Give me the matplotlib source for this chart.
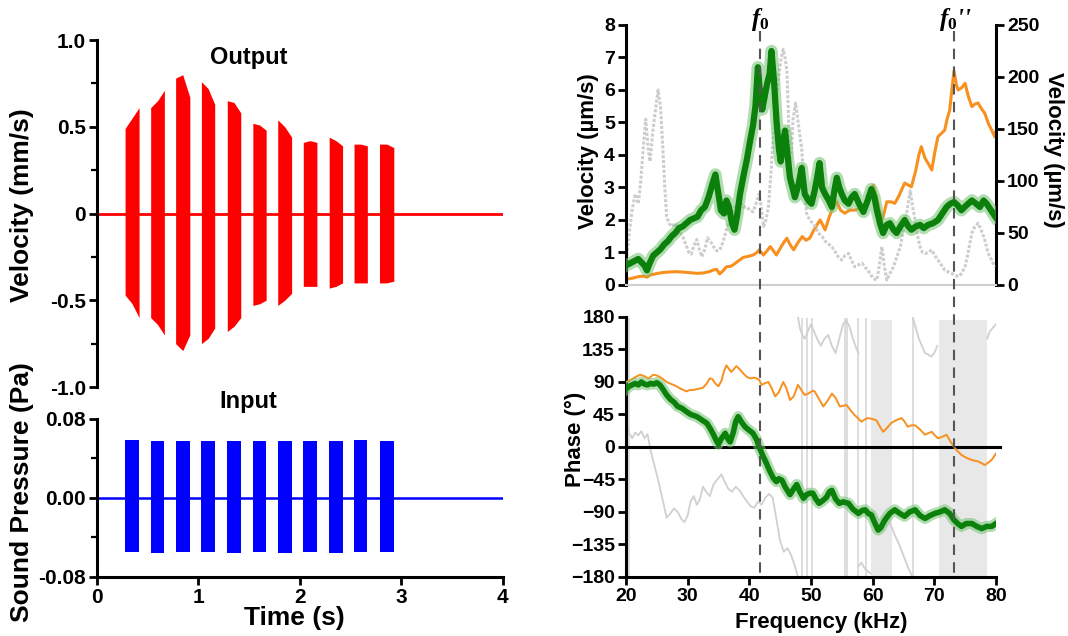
import matplotlib
matplotlib.use("Agg")
import matplotlib.pyplot as plt
import matplotlib.transforms as mtransforms
from matplotlib.lines import Line2D
from matplotlib.ticker import MultipleLocator

plt.rcParams['font.family'] = ['Liberation Sans', 'DejaVu Sans']
plt.rcParams['font.weight'] = 'bold'
plt.rcParams['mathtext.fontset'] = 'custom'
plt.rcParams['mathtext.rm'] = 'Liberation Serif:bold'
plt.rcParams['mathtext.it'] = 'Liberation Serif:italic:bold'

# ---- time-domain bursts (s) ----
burst_start = [0.277, 0.529, 0.775, 1.029, 1.284, 1.536, 1.781, 2.033, 2.288, 2.533, 2.784]
burst_mid = [0.346, 0.597, 0.845, 1.095, 1.350, 1.602, 1.850, 2.100, 2.354, 2.598, 2.855]
burst_end = [0.415, 0.664, 0.915, 1.160, 1.417, 1.667, 1.918, 2.167, 2.420, 2.664, 2.925]
baseline_t = [0.0, 4.0]

# output velocity envelope (mm/s): start, middle, end of each burst
out_top = [[0.49, 0.55, 0.61], [0.61, 0.65, 0.71], [0.78, 0.80, 0.67], [0.76, 0.72, 0.63],
           [0.65, 0.64, 0.58], [0.52, 0.51, 0.48], [0.54, 0.50, 0.44], [0.41, 0.42, 0.41],
           [0.44, 0.42, 0.39], [0.40, 0.40, 0.39], [0.40, 0.40, 0.38]]
out_bot = [[-0.47, -0.52, -0.60], [-0.60, -0.64, -0.70], [-0.75, -0.79, -0.70], [-0.75, -0.72, -0.66],
           [-0.68, -0.65, -0.60], [-0.53, -0.52, -0.50], [-0.53, -0.50, -0.46], [-0.42, -0.42, -0.42],
           [-0.43, -0.42, -0.40], [-0.40, -0.40, -0.40], [-0.40, -0.40, -0.39]]

# input sound pressure envelope (Pa)
in_top = [0.059, 0.058, 0.058, 0.058, 0.058, 0.058, 0.058, 0.058, 0.058, 0.059, 0.058]
in_bot = [-0.055, -0.056, -0.055, -0.055, -0.056, -0.055, -0.056, -0.055, -0.056, -0.055, -0.055]

# ---- frequency response ----
f0 = 41.7
f0pp = 73.2

green_vel_f = [20, 20.5, 21, 21.5, 22, 22.5, 23, 23.4, 23.8, 24.4, 25, 25.6, 26.2, 26.8, 27.4, 28, 28.6,
               29.2, 29.8, 30.4, 31, 31.6, 32.2, 32.8, 33.4, 34.0, 34.5, 35.0, 35.4, 35.9, 36.3, 36.7,
               37.2, 37.6, 38.0, 38.5, 39.0, 39.6, 40.1, 40.6, 41.0, 41.4, 41.7, 42.1, 42.5, 42.9, 43.3,
               43.6, 44.0, 44.4, 44.8, 45.1, 45.5, 45.8, 46.2, 46.6, 47.0, 47.4, 48.0, 48.5, 49.0, 49.6,
               50.1, 50.6, 51.0, 51.4, 51.8, 52.3, 52.9, 53.4, 53.8, 54.2, 54.6, 55.0, 55.5, 56.1, 56.6,
               57.1, 57.8, 58.5, 59.2, 59.8, 60.3, 60.7, 61.2, 61.7, 62.3, 62.8, 63.4, 63.9, 64.5, 65.2,
               65.8, 66.3, 67.0, 67.7, 68.3, 69.0, 69.8, 70.6, 71.3, 72.0, 72.6, 73.2, 73.8, 74.4, 75.2,
               76.1, 76.8, 77.4, 78.0, 78.5, 79.2, 79.9]
green_vel = [0.6, 0.65, 0.7, 0.75, 0.8, 0.7, 0.6, 0.45, 0.65, 0.9, 1.0, 1.1, 1.25, 1.35, 1.5, 1.6, 1.75,
             1.8, 1.9, 2.0, 2.05, 2.1, 2.3, 2.4, 2.7, 3.1, 3.4, 2.8, 2.3, 2.2, 2.6, 2.4,
             1.9, 1.7, 2.1, 2.8, 3.3, 3.85, 4.4, 4.9, 5.5, 6.7, 6.0, 5.4, 5.8, 6.2, 6.5,
             7.2, 6.3, 5.1, 4.2, 3.8, 4.4, 4.75, 4.0, 3.3, 3.0, 2.7, 3.1, 3.6, 2.8, 2.6,
             2.5, 2.9, 3.3, 3.75, 3.0, 2.8, 2.6, 2.4, 2.9, 3.3, 3.0, 2.8, 2.6, 2.5, 2.7,
             2.8, 2.5, 2.25, 2.6, 2.95, 2.7, 2.3, 1.9, 1.6, 1.85, 1.9, 1.7, 1.6, 1.8, 2.0,
             1.8, 1.7, 1.8, 1.85, 1.75, 1.85, 1.9, 2.0, 2.2, 2.4, 2.5, 2.55, 2.45, 2.3, 2.45,
             2.6, 2.5, 2.4, 2.6, 2.5, 2.3, 2.1]

gray_vel_f = [20, 20.3, 20.6, 21.0, 21.5, 22.0, 22.4, 22.8, 23.2, 23.6, 23.9, 24.4, 24.8, 25.2, 25.6,
              25.9, 26.3, 26.6, 27.0, 27.4, 28.0, 28.5, 29.2, 29.8, 30.2, 30.6, 31.0, 31.5, 31.9, 32.3,
              32.8, 33.2, 33.7, 34.2, 34.7, 35.2, 35.7, 36.3, 36.9, 37.4, 38.0, 38.5, 39.0, 39.6, 40.1,
              40.6, 41.1, 41.6, 42.0, 42.3, 42.7, 43.1, 43.5, 43.9, 44.3, 44.7, 45.1, 45.5, 45.8, 46.1,
              46.4, 46.6, 46.9, 47.1, 47.5, 47.8, 48.2, 48.5, 48.9, 49.3, 49.8, 50.3, 50.7, 51.2, 51.8,
              52.3, 52.9, 53.4, 54.0, 54.5, 55.0, 55.5, 56.1, 56.6, 57.1, 57.7, 58.3, 59.0, 59.6, 60.1,
              60.7, 61.1, 61.5, 61.9, 62.3, 62.8, 63.4, 63.9, 64.5, 65.0, 65.6, 66.1, 66.5, 66.9, 67.3,
              67.7, 68.1, 68.5, 69.0, 69.6, 70.1, 70.6, 71.2, 71.7, 72.3, 72.8, 73.4, 73.9, 74.4, 75.0,
              75.5, 76.1, 76.6, 77.1, 77.6, 78.2, 78.7, 79.3, 79.8]
gray_vel = [0.6, 1.2, 1.7, 2.3, 2.8, 2.5, 3.2, 4.2, 5.1, 4.2, 3.8, 4.8, 5.4, 6.0, 5.5,
            4.5, 3.0, 2.1, 1.9, 1.8, 1.9, 1.7, 1.5, 1.2, 1.0, 0.95, 1.2, 1.4, 1.1, 0.87,
            1.1, 1.45, 1.35, 1.18, 1.05, 1.08, 1.3, 1.7, 2.1, 2.3, 2.5, 2.56, 2.4, 2.4, 2.3,
            2.25, 2.5, 2.8, 2.3, 1.8, 2.0, 2.4, 3.4, 4.6, 5.5, 6.3, 6.9, 7.25, 7.0, 6.6,
            5.0, 3.5, 4.3, 5.1, 5.6, 5.2, 4.6, 4.2, 3.0, 2.2, 2.0, 1.9, 1.8, 1.6, 1.5,
            1.35, 1.25, 1.18, 1.0, 0.85, 0.77, 0.9, 0.97, 0.75, 0.56, 0.62, 0.67, 0.5, 0.36, 0.2,
            0.15, 0.6, 1.18, 0.6, 0.15, 0.35, 0.56, 0.85, 1.18, 1.7, 2.3, 2.9, 2.4, 2.0, 1.5,
            1.18, 1.0, 0.97, 1.0, 1.08, 0.9, 0.77, 0.6, 0.46, 0.4, 0.36, 0.3, 0.26, 0.35, 0.56,
            1.0, 1.6, 1.8, 1.9, 1.7, 1.38, 1.0, 0.77, 0.56]

orange_vel_f = [20, 21, 22, 22.8, 23.4, 24, 25, 26, 27, 28, 29, 30, 31, 31.5, 32.5, 33.5, 34.2, 34.7,
                35.2, 35.8, 36.3, 37.0, 37.4, 38.2, 39, 39.8, 40.6, 41.2, 41.6, 42.0, 42.3, 42.9, 43.4,
                43.9, 44.4, 45.0, 45.6, 46.1, 46.6, 47.2, 47.8, 48.6, 49.2, 49.8, 50.4, 51.0, 51.5,
                52.3, 53.0, 53.6, 54.2, 54.8, 55.5, 56.3, 57.1, 58.0, 58.8, 59.5, 60.1, 60.6, 61.1,
                61.5, 61.9, 62.3, 63.0, 63.6, 64.3, 65.2, 65.8, 66.3, 67.0, 67.5, 67.9, 68.5, 69.0,
                69.6, 70.1, 70.6, 71.2, 71.7, 72.1, 72.5, 72.9, 73.2, 73.6, 73.9, 74.5, 75.0, 75.5,
                76.1, 76.6, 77.1, 77.6, 78.2, 78.8, 79.3, 79.8, 80.0]
orange_vel = [5.4, 6.5, 8, 8.5, 7.5, 9.7, 11, 12, 12.5, 12.8, 12.5, 12, 11.5, 11.2, 11.5, 12.8, 14.5, 15,
              10.6, 14, 17.5, 18, 19.4, 23, 26.5, 27.5, 28.8, 31, 33.8, 31, 28.8, 33, 36.9,
              33, 28.8, 35, 41, 45, 39, 33.8, 40, 46.6, 43, 45, 52, 58, 62.5,
              53, 66, 75, 80, 72, 69, 72, 72, 74, 75, 88, 96, 85, 72,
              62.5, 70, 80, 80, 78.5, 86, 98, 96, 94.5, 110, 125, 133, 122, 117,
              110.6, 128, 142.6, 146, 149, 160, 168, 190, 206, 192, 187.5, 190, 194, 182,
              171.5, 174, 175, 170, 165, 155, 149, 142.6, 148]

green_ph_f = [20, 20.5, 21, 21.5, 22, 22.5, 23, 23.5, 24, 24.5, 25, 25.5, 26, 26.6, 27.2, 27.8, 28.4,
              29, 29.8, 30.5, 31.5, 32.2, 33.1, 33.7, 34.2, 34.7, 35.0, 35.5, 36.1, 36.6, 36.9, 37.4,
              37.8, 38.2, 38.7, 39.3, 40.0, 40.6, 41.2, 41.6, 42.2, 42.8, 43.3, 43.9, 44.4, 44.8,
              45.3, 45.8, 46.3, 46.6, 47.2, 47.7, 48.2, 48.8, 49.3, 49.8, 50.3, 50.8, 51.3, 51.8,
              52.5, 53.0, 53.4, 54.0, 54.6, 55.2, 56.1, 56.8, 57.7, 58.3, 58.8, 59.3, 59.8, 60.4,
              60.9, 61.3, 62.0, 62.8, 63.6, 64.4, 65.2, 66.0, 66.9, 67.7, 68.5, 69.3, 70.1, 70.9,
              71.7, 72.5, 73.2, 73.8, 74.4, 75.2, 76.1, 76.9, 77.7, 78.5, 79.3, 80.0]
green_ph = [80, 84, 86, 88, 86, 90, 87, 86, 88, 87, 89, 86, 80, 72, 66, 62, 56,
            54, 49, 45, 42, 38, 33, 25, 17, 8, 4, 12, 19, 10, 7, 20,
            35, 42, 35, 28, 23, 19, 10, 0, -12, -23, -33, -43, -48, -44,
            -46, -55, -62, -66, -58, -52, -62, -71, -66, -64, -64, -72, -78, -75,
            -70, -62, -60, -72, -78, -76, -78, -86, -92, -88, -87, -92, -94, -106,
            -115, -112, -101, -92, -87, -92, -96, -90, -87, -95, -99, -95, -92, -90,
            -87, -92, -101, -106, -110, -106, -106, -110, -113, -110, -110, -106]

orange_ph_f = [20, 20.6, 21.2, 21.8, 22.3, 23.0, 23.6, 24.0, 24.4, 25.0, 25.5, 26.0, 26.6, 27.1, 27.7,
               28.2, 28.8, 29.3, 29.8, 30.4, 30.9, 31.5, 32.0, 32.5, 33.1, 33.6, 34.0, 34.5, 35.0,
               35.5, 35.9, 36.3, 36.7, 37.1, 37.5, 37.9, 38.4, 39.0, 39.6, 40.2, 40.8, 41.2, 41.6,
               42.0, 42.5, 43.1, 43.6, 44.2, 44.8, 45.5, 46.0, 46.6, 47.2, 47.9, 48.5, 49.0, 49.6,
               50.3, 50.6, 51.2, 52.0, 52.7, 53.4, 54.0, 54.7, 55.2, 55.8, 56.5, 57.1, 57.6, 58.2,
               58.7, 59.2, 59.9, 60.6, 61.2, 61.7, 62.3, 63.0, 63.8, 64.7, 65.2, 65.7, 66.3, 66.9,
               67.6, 68.5, 69.0, 69.6, 70.1, 70.6, 71.3, 72.0, 72.6, 73.2, 73.8, 74.4, 75.2, 76.1,
               76.6, 77.1, 77.6, 78.2, 78.7, 79.3, 79.7, 80.1]
orange_ph = [90, 92, 95, 98, 100, 98, 95, 97, 100, 99, 97, 94, 90, 88, 86,
             84, 81, 79, 77, 79, 79, 80, 81, 82, 88, 95, 94, 88, 84,
             92, 105, 113, 108, 104, 108, 112, 108, 102, 97, 95, 96, 95, 93,
             86, 88, 90, 82, 70, 76, 90, 82, 65, 70, 86, 78, 72, 74,
             78, 77, 68, 56, 64, 74, 68, 56, 57, 58, 50, 44, 40, 35,
             38, 40, 39, 37, 28, 21, 26, 33, 37, 40, 35, 28, 30, 30,
             25, 17, 19, 21, 16, 12, 14, 17, 8, 0, -6, -11, -15, -18,
             -19, -20, -22, -25, -22, -18, -13, -8]

# gray phase trace in pieces (it wraps at +/-180 and scatters in two bands)
gray_ph_pieces = [
    ([20.0, 20.5, 21.0, 21.5, 22.0, 22.5, 23.0, 23.5, 24.0, 24.6, 25.2, 26.0, 26.6, 27.2, 27.8,
      28.4, 29.0, 29.5, 30.0, 30.5, 31.0, 31.5, 32.0, 32.5, 33.0, 33.6, 34.2, 34.8, 35.5, 36.0,
      36.6, 37.2, 37.8, 38.4, 39.0, 39.6, 40.2, 40.8, 41.4, 42.0, 42.6, 43.2, 43.8, 44.4, 45.0,
      45.6, 46.2, 46.8, 47.4, 47.9],
     [38, 20, 12, 20, 16, 22, 12, 18, -5, -25, -45, -75, -98, -92, -85,
      -90, -100, -104, -95, -75, -68, -80, -72, -55, -62, -68, -52, -45, -38, -48,
      -58, -62, -55, -60, -68, -75, -82, -84, -76, -80, -70, -65, -70, -100, -130,
      -145, -140, -150, -165, -180]),
    ([47.9, 48.2, 48.6, 49.0, 49.5, 50.0, 50.5, 51.0, 51.6, 52.2, 52.8, 53.4, 54.0, 54.6, 55.2,
      55.7, 56.2, 56.8, 57.3, 57.7],
     [180, 165, 155, 150, 160, 170, 160, 150, 140, 150, 155, 140, 130, 150, 170,
      175, 168, 150, 138, 130]),
    ([57.7, 58.2, 58.7, 59.2, 59.7], [-165, -160, -168, -172, -175]),
    ([62.8, 63.5, 64.3, 65.0, 65.8, 66.5], [-105, -120, -135, -150, -168, -180]),
    ([66.5, 67.0, 67.5, 68.0, 68.5, 69.0, 69.5, 70.0, 70.5], [180, 165, 150, 140, 130, 128, 125, 130, 140]),
    ([78.6, 79.0, 79.5, 80.0], [150, 160, 165, 170]),
]
gray_ph_wraps = [20.5, 48.6, 49.3, 50.1, 55.5, 55.8, 57.7, 58.9, 66.5]
gray_ph_dense = [(59.8, 63.2), (70.7, 78.5)]

red = '#ff0000'
blue = '#0000ff'
green = '#0b800b'
green_fringe = '#72c272'
orange = '#f7901e'
gray = '#cdcdcd'

fig = plt.figure(figsize=(10.68, 6.36), dpi=100)
ax_out = fig.add_axes([0.0908, 0.3915, 0.3801, 0.5456])
ax_in = fig.add_axes([0.0908, 0.0928, 0.3801, 0.2484])
ax_vel = fig.add_axes([0.5861, 0.5519, 0.3464, 0.4088])
ax_vel2 = ax_vel.twinx()
ax_ph = fig.add_axes([0.5861, 0.0928, 0.3464, 0.4088])

# --- output velocity ---
for i in range(len(burst_start)):
    ts = [burst_start[i], burst_mid[i], burst_end[i]]
    ax_out.fill_between(ts, out_bot[i], out_top[i], color=red, lw=0)
ax_out.plot(baseline_t, [0, 0], color=red, lw=2)
ax_out.set_xlim(0, 4)
ax_out.set_ylim(-1.0, 1.0)
ax_out.set_yticks([-1.0, -0.5, 0, 0.5, 1.0])
ax_out.set_yticklabels(['-1.0', '-0.5', '0', '0.5', '1.0'])
ax_out.yaxis.set_minor_locator(MultipleLocator(0.25))
ax_out.set_xticks([])
for s in ['top', 'right', 'bottom']:
    ax_out.spines[s].set_visible(False)

# --- input sound pressure ---
for i in range(len(burst_start)):
    ax_in.fill_between([burst_start[i], burst_end[i]], in_bot[i], in_top[i], color=blue, lw=0)
ax_in.plot(baseline_t, [0, 0], color=blue, lw=1.8)
ax_in.set_xlim(0, 4)
ax_in.set_ylim(-0.08, 0.08)
ax_in.set_yticks([-0.08, 0.0, 0.08])
ax_in.set_yticklabels(['-0.08', '0.00', '0.08'])
ax_in.yaxis.set_minor_locator(MultipleLocator(0.04))
ax_in.set_xticks([0, 1, 2, 3, 4])
for s in ['top', 'right']:
    ax_in.spines[s].set_visible(False)

for ax in (ax_out, ax_in):
    for s in ['left', 'bottom']:
        ax.spines[s].set_linewidth(2.2)
    ax.tick_params(which='major', direction='out', length=6, width=2, labelsize=15, pad=2)
    ax.tick_params(which='minor', direction='out', length=4, width=1.6)
    ax.patch.set_alpha(0)

# --- velocity spectrum ---
ax_vel.plot(gray_vel_f, gray_vel, color=gray, lw=2.2, ls=(0, (1, 0.6)), zorder=1)
ax_vel.plot(green_vel_f, green_vel, color=green_fringe, lw=9, alpha=0.55, zorder=3)
ax_vel.plot(green_vel_f, green_vel, color=green, lw=4.5, zorder=4)
ax_vel2.plot(orange_vel_f, orange_vel, color=orange, lw=2.2, zorder=2)
ax_vel.set_zorder(ax_vel2.get_zorder() + 1)
ax_vel.patch.set_visible(False)
ax_vel.set_xlim(20, 80)
ax_vel.set_ylim(0, 8)
ax_vel2.set_ylim(0, 250)
ax_vel.set_yticks(range(0, 9))
ax_vel2.set_yticks(range(0, 251, 50))
ax_vel.set_xticks([])
ax_vel.spines['top'].set_visible(False)
ax_vel.spines['right'].set_visible(False)
ax_vel.spines['bottom'].set_color('#d0d0d0')
ax_vel.spines['bottom'].set_linewidth(1.5)
ax_vel.spines['left'].set_linewidth(2.2)
for s in ['top', 'left', 'bottom']:
    ax_vel2.spines[s].set_visible(False)
ax_vel2.spines['right'].set_linewidth(2.2)

# --- phase spectrum ---
for lo, hi in gray_ph_dense:
    ax_ph.fill_between([lo, hi], [-178, -178], [176, 176], color='#e8e8e8', lw=0, zorder=1)
ax_ph.vlines(gray_ph_wraps, -180, 178, color='#d8d8d8', lw=1.2, zorder=1)
for pf, pv in gray_ph_pieces:
    ax_ph.plot(pf, pv, color='#d0d0d0', lw=1.3, zorder=2)
ax_ph.plot([20, 80.6], [0, 0], color='black', lw=2.2, clip_on=False, zorder=3)
ax_ph.plot(orange_ph_f, orange_ph, color=orange, lw=1.4, zorder=4)
ax_ph.plot(green_ph_f, green_ph, color=green_fringe, lw=8, alpha=0.55, zorder=5)
ax_ph.plot(green_ph_f, green_ph, color=green, lw=4, zorder=6)
ax_ph.set_xlim(20, 80)
ax_ph.set_ylim(-180, 180)
ax_ph.set_yticks(range(-180, 181, 45))
ax_ph.set_xticks(range(20, 81, 10))
for s in ['top', 'right']:
    ax_ph.spines[s].set_visible(False)
for s in ['left', 'bottom']:
    ax_ph.spines[s].set_linewidth(2.2)

for ax in (ax_vel, ax_vel2, ax_ph):
    ax.tick_params(which='major', direction='out', length=6, width=2, labelsize=14, pad=2)

# dashed markers at the two resonances, running through both spectra
blend = mtransforms.blended_transform_factory(ax_ph.transData, fig.transFigure)
for f in (f0, f0pp):
    fig.add_artist(Line2D([f, f], [0.951, 0.0928], transform=blend, color='#555555',
                          lw=1.5, ls=(0, (5, 3.5)), zorder=10))
fig.text(f0, 0.969, r'$f_0$', transform=blend, ha='center', va='center', fontsize=18)
fig.text(f0pp + 0.3, 0.969, r"$f_0$''", transform=blend, ha='center', va='center', fontsize=18,
         family='Liberation Serif', style='italic')

# labels
fig.text(0.2327, 0.909, 'Output', ha='center', va='center', fontsize=17)
fig.text(0.2327, 0.368, 'Input', ha='center', va='center', fontsize=17)
fig.text(0.021, 0.678, 'Velocity (mm/s)', rotation=90, ha='center', va='center', fontsize=19)
fig.text(0.021, 0.2264, 'Sound Pressure (Pa)', rotation=90, ha='center', va='center', fontsize=19)
fig.text(0.2753, 0.028, 'Time (s)', ha='center', va='center', fontsize=19)
fig.text(0.5506, 0.7626, 'Velocity (µm/s)', rotation=90, ha='center', va='center', fontsize=16)
fig.text(0.986, 0.764, 'Velocity (µm/s)', rotation=270, ha='center', va='center', fontsize=16)
fig.text(0.5384, 0.3097, 'Phase (°)', rotation=90, ha='center', va='center', fontsize=16)
fig.text(0.7694, 0.022, 'Frequency (kHz)', ha='center', va='center', fontsize=16)

fig.savefig('out.png', dpi=100)
